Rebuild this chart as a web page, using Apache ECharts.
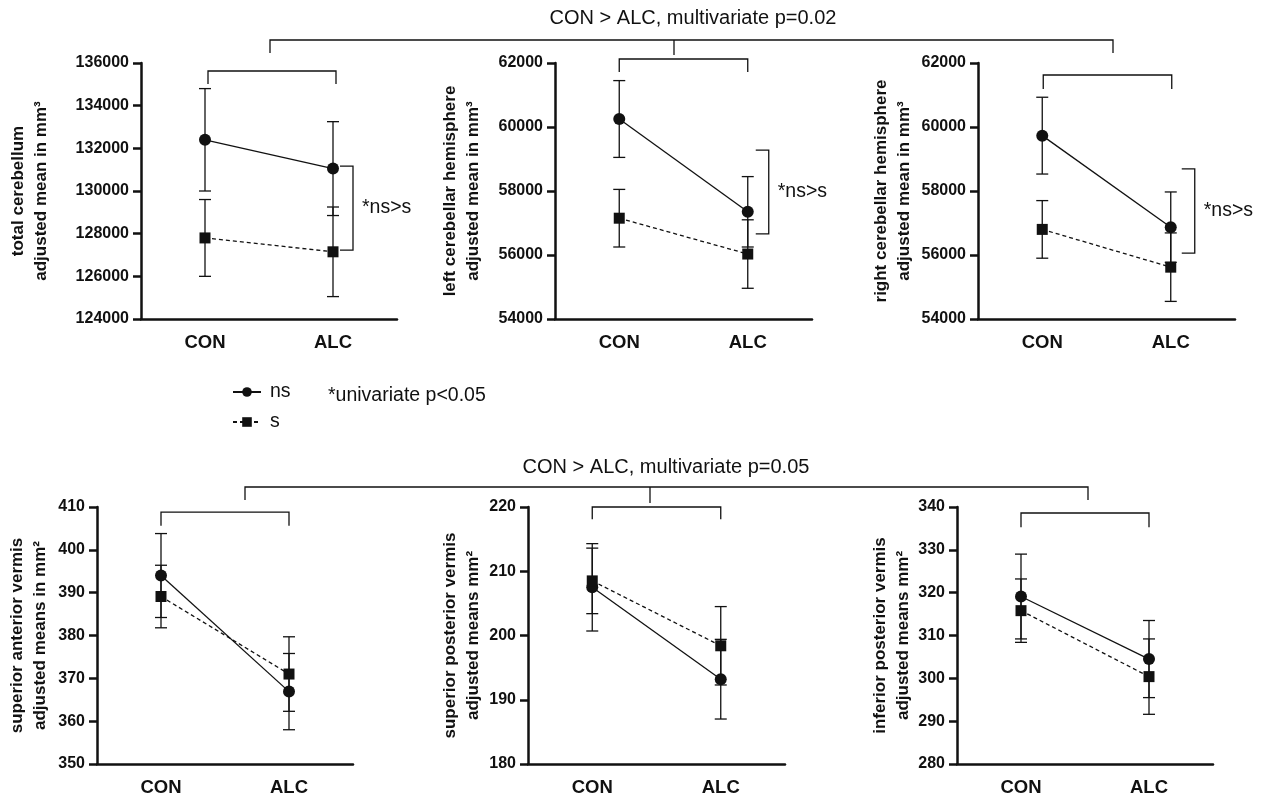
<!DOCTYPE html>
<html>
<head>
<meta charset="utf-8">
<script src="https://cdn.jsdelivr.net/npm/echarts@6/dist/echarts.min.js"></script>
<style>html,body{margin:0;padding:0;background:#fff;}#c{width:1275px;height:800px;}</style>
</head>
<body>
<div id="c"></div>
<script>
// ---------- data ----------
const categories = ['CON', 'ALC'];

const totalNs = [132400, 131050];
const totalNsErr = [2400, 2200];
const totalS = [127800, 127150];
const totalSErr = [1800, 2100];

const leftNs = [60250, 57350];
const leftNsErr = [1200, 1100];
const leftS = [57150, 56030];
const leftSErr = [900, 1070];

const rightNs = [59730, 56870];
const rightNsErr = [1200, 1100];
const rightS = [56800, 55620];
const rightSErr = [900, 1070];

const supAntNs = [394, 366.9];
const supAntNsErr = [9.8, 8.9];
const supAntS = [389.1, 371];
const supAntSErr = [7.3, 8.7];

const supPostNs = [207.5, 193.2];
const supPostNsErr = [6.8, 6.2];
const supPostS = [208.5, 198.4];
const supPostSErr = [5.1, 6.1];

const infPostNs = [319.1, 304.5];
const infPostNsErr = [9.9, 9.0];
const infPostS = [315.8, 300.4];
const infPostSErr = [7.4, 8.8];

const topTitle = 'CON > ALC, multivariate p=0.02';
const bottomTitle = 'CON > ALC, multivariate p=0.05';
const noteText = '*univariate p<0.05';
const nsGtS = '*ns>s';

// ---------- layout / style ----------
const FONT = '"Liberation Sans", Arial, Helvetica, sans-serif';
const INK = '#111';

const panels = [
  { grid: {left: 141, top: 63, width: 256, height: 256}, min: 124000, max: 136000, interval: 2000,
    name: 'total cerebellum\nadjusted mean in mm³', nameGap: 88,
    ns: totalNs, nsErr: totalNsErr, s: totalS, sErr: totalSErr,
    br: {top: 135625, drop: 135015, dx: 3},
    sig: {y1: 131170, y2: 127230, dx: 20} },
  { grid: {left: 555, top: 63, width: 257, height: 256}, min: 54000, max: 62000, interval: 2000,
    name: 'left cerebellar hemisphere\nadjusted mean in mm³', nameGap: 70,
    ns: leftNs, nsErr: leftNsErr, s: leftS, sErr: leftSErr,
    br: {top: 62125, drop: 61720, dx: 0},
    sig: {y1: 59280, y2: 56660, dx: 21} },
  { grid: {left: 978, top: 63, width: 257, height: 256}, min: 54000, max: 62000, interval: 2000,
    name: 'right cerebellar hemisphere\nadjusted mean in mm³', nameGap: 62,
    ns: rightNs, nsErr: rightNsErr, s: rightS, sErr: rightSErr,
    br: {top: 61625, drop: 61190, dx: 1},
    sig: {y1: 58690, y2: 56060, dx: 24} },
  { grid: {left: 97, top: 507, width: 256, height: 257}, min: 350, max: 410, interval: 10,
    name: 'superior anterior vermis\nadjusted means in mm²', nameGap: 45,
    ns: supAntNs, nsErr: supAntNsErr, s: supAntS, sErr: supAntSErr,
    br: {top: 408.8, drop: 405.6, dx: 0} },
  { grid: {left: 528, top: 507, width: 257, height: 257}, min: 180, max: 220, interval: 10,
    name: 'superior posterior vermis\nadjusted means mm²', nameGap: 43,
    ns: supPostNs, nsErr: supPostNsErr, s: supPostS, sErr: supPostSErr,
    br: {top: 220, drop: 218.1, dx: 0} },
  { grid: {left: 957, top: 507, width: 256, height: 257}, min: 280, max: 340, interval: 10,
    name: 'inferior posterior vermis\nadjusted means mm²', nameGap: 42,
    ns: infPostNs, nsErr: infPostNsErr, s: infPostS, sErr: infPostSErr,
    br: {top: 338.6, drop: 335.3, dx: 0} }
];

const axisLineStyle = {color: INK, width: 2.5};

function errRender(params, api) {
  const x = api.value(0), m = api.value(1), e = api.value(2);
  const t = api.coord([x, m + e]);
  const b = api.coord([x, m - e]);
  const w = 6;
  const st = {stroke: INK, lineWidth: 1.3};
  return {type: 'group', children: [
    {type: 'line', shape: {x1: t[0], y1: t[1], x2: b[0], y2: b[1]}, style: st},
    {type: 'line', shape: {x1: t[0] - w, y1: t[1], x2: t[0] + w, y2: t[1]}, style: st},
    {type: 'line', shape: {x1: b[0] - w, y1: b[1], x2: b[0] + w, y2: b[1]}, style: st}
  ]};
}

function bracketRender(dx) {
  return function (params, api) {
    const top = api.value(1), drop = api.value(2);
    const a = api.coord([0, top]);
    const b = api.coord([1, top]);
    const d = api.coord([0, drop]);
    return {type: 'polyline', shape: {points: [[a[0] + dx, d[1]], [a[0] + dx, a[1]], [b[0] + dx, b[1]], [b[0] + dx, d[1]]]},
      style: {stroke: INK, lineWidth: 1.3, fill: null}};
  };
}

function sigRender(dx) {
  return function (params, api) {
    const p1 = api.coord([1, api.value(1)]);
    const p2 = api.coord([1, api.value(2)]);
    const x = p1[0] + dx;
    return {type: 'group', children: [
      {type: 'polyline', shape: {points: [[x - 13, p1[1]], [x, p1[1]], [x, p2[1]], [x - 13, p2[1]]]},
        style: {stroke: INK, lineWidth: 1.3, fill: null}},
      {type: 'text', style: {text: nsGtS, x: x + 9, y: (p1[1] + p2[1]) / 2, fontSize: 19.5, fontFamily: FONT,
        fill: INK, verticalAlign: 'middle', align: 'left'}}
    ]};
  };
}

const grids = [], xAxes = [], yAxes = [], series = [];
panels.forEach((p, i) => {
  grids.push(Object.assign({containLabel: false}, p.grid));
  xAxes.push({
    gridIndex: i, type: 'category', data: categories, boundaryGap: true,
    axisLine: {lineStyle: axisLineStyle},
    axisTick: {alignWithLabel: true, length: 9, lineStyle: axisLineStyle},
    axisLabel: {fontSize: 18.5, fontWeight: 'bold', color: INK, margin: 14, fontFamily: FONT},
    splitLine: {show: false}
  });
  yAxes.push({
    gridIndex: i, type: 'value', min: p.min, max: p.max, interval: p.interval,
    axisLine: {show: true, lineStyle: axisLineStyle},
    axisTick: {show: true, length: 8, lineStyle: axisLineStyle},
    axisLabel: {fontSize: 16, fontWeight: 'bold', color: INK, margin: 12, fontFamily: FONT,
      formatter: v => String(v)},
    splitLine: {show: false},
    name: p.name, nameLocation: 'middle', nameRotate: 90, nameGap: p.nameGap,
    nameTextStyle: {fontSize: 17, fontWeight: 'bold', color: INK, lineHeight: 23, fontFamily: FONT, align: 'center'}
  });
  series.push({
    type: 'custom', name: 'nsErr' + i, xAxisIndex: i, yAxisIndex: i, clip: false, z: 2,
    renderItem: errRender, encode: {x: 0, y: 1},
    data: p.ns.map((v, k) => [k, v, p.nsErr[k]])
  });
  series.push({
    type: 'custom', name: 'sErr' + i, xAxisIndex: i, yAxisIndex: i, clip: false, z: 2,
    renderItem: errRender, encode: {x: 0, y: 1},
    data: p.s.map((v, k) => [k, v, p.sErr[k]])
  });
  series.push({
    type: 'line', name: 'ns', xAxisIndex: i, yAxisIndex: i, data: p.ns, z: 3,
    symbol: 'circle', symbolSize: 12,
    lineStyle: {color: INK, width: 1.3}, itemStyle: {color: INK}
  });
  series.push({
    type: 'line', name: 's', xAxisIndex: i, yAxisIndex: i, data: p.s, z: 4,
    symbol: 'rect', symbolSize: 11,
    lineStyle: {color: INK, width: 1.3, type: [4, 3]}, itemStyle: {color: INK}
  });
  series.push({
    type: 'custom', name: 'br' + i, xAxisIndex: i, yAxisIndex: i, clip: false, z: 2,
    renderItem: bracketRender(p.br.dx), encode: {x: 0, y: 1},
    data: [[0, p.br.top, p.br.drop]]
  });
  if (p.sig) {
    series.push({
      type: 'custom', name: 'sig' + i, xAxisIndex: i, yAxisIndex: i, clip: false, z: 2,
      renderItem: sigRender(p.sig.dx), encode: {x: 0, y: 1},
      data: [[1, p.sig.y1, p.sig.y2]]
    });
  }
});

const lineSt = {stroke: INK, lineWidth: 1.3};
const graphic = [
  {type: 'text', style: {text: topTitle, x: 693, y: 18, align: 'center', verticalAlign: 'middle', fontSize: 20, fontFamily: FONT, fill: INK}},
  {type: 'polyline', shape: {points: [[270, 53], [270, 40], [1113, 40], [1113, 53]]}, style: Object.assign({fill: null}, lineSt)},
  {type: 'line', shape: {x1: 674, y1: 40, x2: 674, y2: 55}, style: lineSt},
  {type: 'text', style: {text: bottomTitle, x: 666, y: 467, align: 'center', verticalAlign: 'middle', fontSize: 20, fontFamily: FONT, fill: INK}},
  {type: 'polyline', shape: {points: [[245, 500], [245, 487], [1088, 487], [1088, 500]]}, style: Object.assign({fill: null}, lineSt)},
  {type: 'line', shape: {x1: 650, y1: 487, x2: 650, y2: 503}, style: lineSt},
  {type: 'text', style: {text: noteText, x: 328, y: 396, align: 'left', verticalAlign: 'middle', fontSize: 19.5, fontFamily: FONT, fill: INK}}
];

const option = {
  animation: false,
  backgroundColor: '#fff',
  grid: grids, xAxis: xAxes, yAxis: yAxes, series: series,
  legend: {
    data: ['ns', 's'], orient: 'vertical', left: 227, top: 377,
    itemWidth: 28, itemHeight: 12, itemGap: 10, selectedMode: false,
    textStyle: {fontSize: 19.5, color: INK, fontFamily: FONT, padding: [0, 0, 0, 4]}
  },
  graphic: graphic
};

const chart = echarts.init(document.getElementById('c'), null, {renderer: 'canvas'});
chart.setOption(option);
</script>
</body>
</html>
